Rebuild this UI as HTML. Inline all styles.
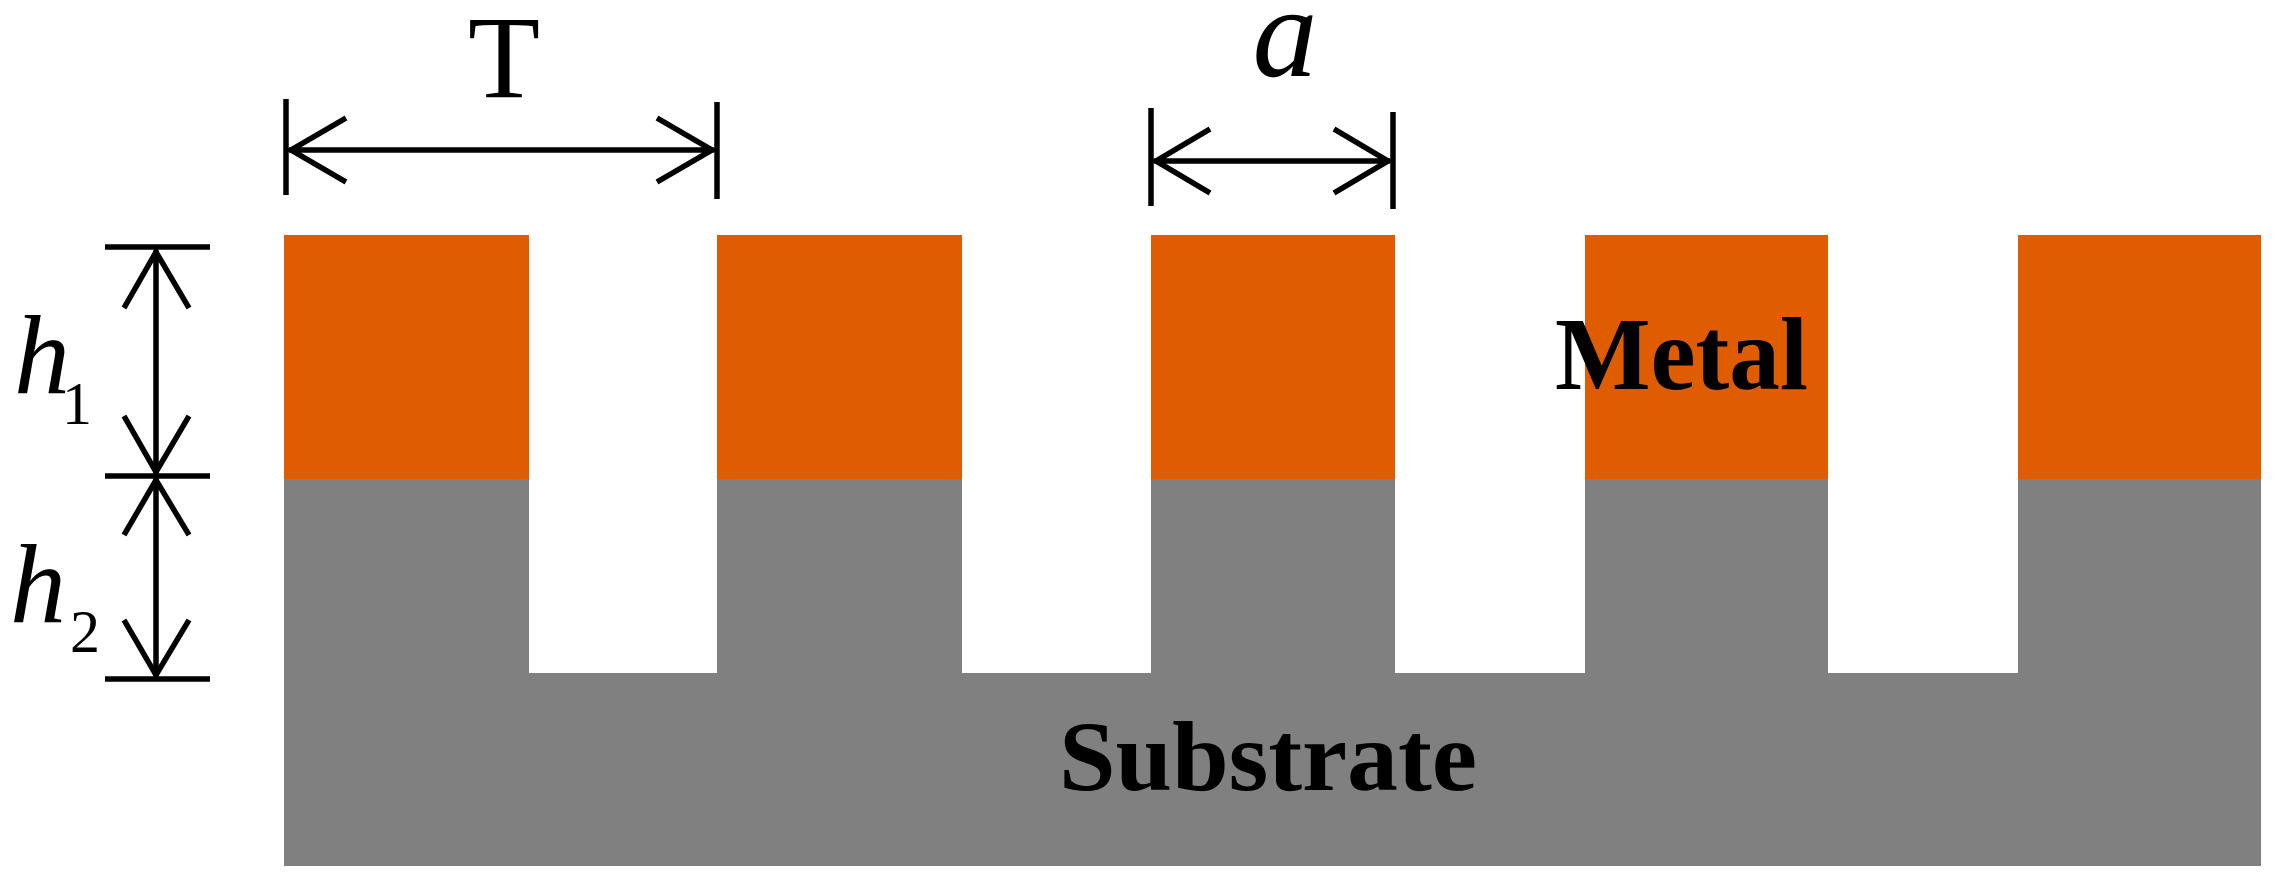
<!DOCTYPE html>
<html><head><style>html,body{margin:0;padding:0;background:#fff}svg{display:block}</style></head>
<body>
<svg width="2279" height="885" viewBox="0 0 2279 885" xmlns="http://www.w3.org/2000/svg">
<g fill="#E05C00">
<rect x="284" y="235" width="245" height="245"/>
<rect x="717" y="235" width="245" height="245"/>
<rect x="1151" y="235" width="244" height="245"/>
<rect x="1585" y="235" width="243" height="245"/>
<rect x="2018" y="235" width="243" height="245"/>
</g>
<g fill="#808080">
<rect x="284" y="479" width="245" height="200"/>
<rect x="717" y="479" width="245" height="200"/>
<rect x="1151" y="479" width="244" height="200"/>
<rect x="1585" y="479" width="243" height="200"/>
<rect x="2018" y="479" width="243" height="200"/>
<rect x="284" y="673" width="1977" height="193"/>
</g>
<g stroke="#000" stroke-width="5.5" fill="none">
<!-- T -->
<line x1="286" y1="99" x2="286" y2="195"/>
<line x1="717" y1="102" x2="717" y2="199"/>
<line x1="289" y1="150" x2="714" y2="150"/>
<polyline points="346,118 291,150 346,182"/>
<polyline points="657,118 712,150 657,182"/>
<!-- a -->
<line x1="1151" y1="108" x2="1151" y2="206"/>
<line x1="1393" y1="112" x2="1393" y2="209"/>
<line x1="1154" y1="161" x2="1390" y2="161"/>
<polyline points="1210,129 1156,161 1210,193"/>
<polyline points="1334,129 1388,161 1334,193"/>
<!-- h -->
<line x1="105" y1="247" x2="210" y2="247"/>
<line x1="105" y1="476" x2="210" y2="476"/>
<line x1="105" y1="679" x2="210" y2="679"/>
<line x1="156" y1="250" x2="156" y2="676"/>
<polyline points="124,308 156,252 189,308"/>
<polyline points="124,416 156,472 189,416"/>
<polyline points="124,535 156,480 189,535"/>
<polyline points="124,620 156,675 189,620"/>
</g>
<g font-family="Liberation Serif, serif" fill="#000">
<text x="504" y="97" font-size="118" text-anchor="middle">T</text>
<text x="1285" y="76" font-size="130" font-style="italic" text-anchor="middle">a</text>
<text x="14" y="393" font-size="112" font-style="italic">h</text>
<text x="62" y="424" font-size="60">1</text>
<text x="10" y="622" font-size="112" font-style="italic">h</text>
<text x="70" y="652" font-size="60">2</text>
<text x="1555" y="389" font-size="104" font-weight="bold" textLength="253" lengthAdjust="spacingAndGlyphs">Metal</text>
<text x="1059" y="790" font-size="100" font-weight="bold" textLength="418" lengthAdjust="spacingAndGlyphs">Substrate</text>
</g>
</svg>
</body></html>
